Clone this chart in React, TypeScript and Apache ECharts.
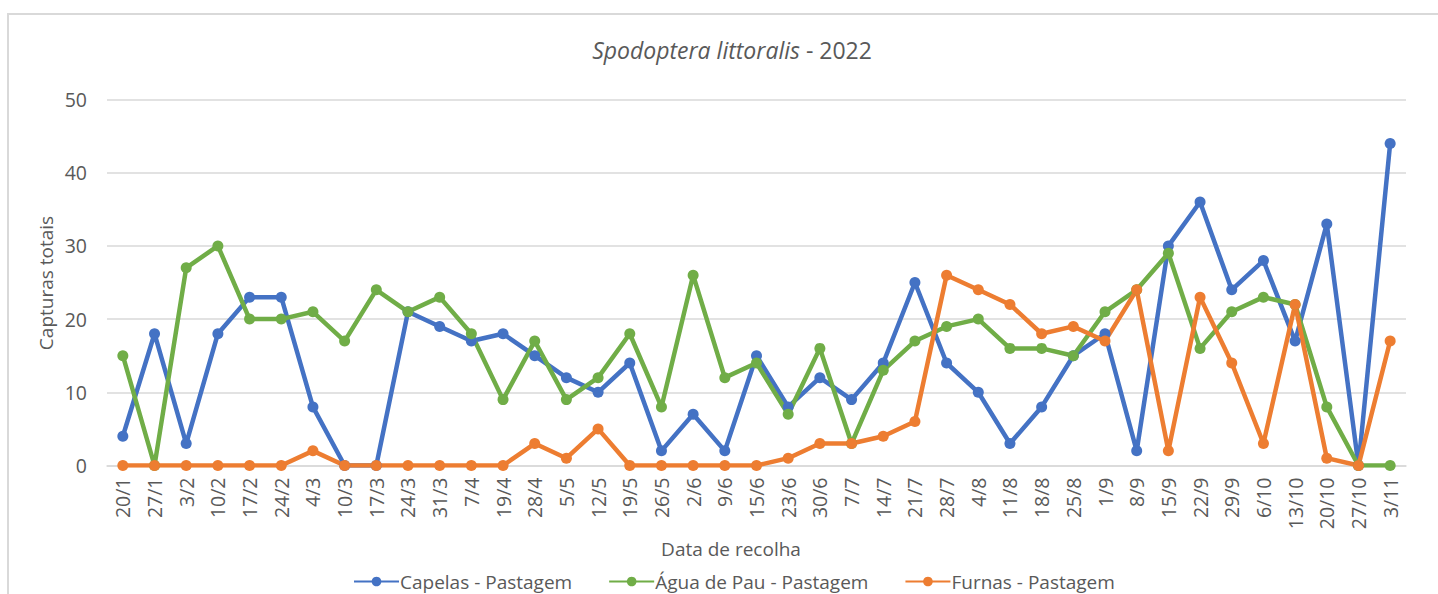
import React, { useEffect, useRef } from "react";
import * as echarts from "echarts";

const categories = ["20/1","27/1","3/2","10/2","17/2","24/2","4/3","10/3","17/3","24/3","31/3","7/4","19/4","28/4","5/5","12/5","19/5","26/5","2/6","9/6","15/6","23/6","30/6","7/7","14/7","21/7","28/7","4/8","11/8","18/8","25/8","1/9","8/9","15/9","22/9","29/9","6/10","13/10","20/10","27/10","3/11"];

const capelas = [4,18,3,18,23,23,8,0,0,21,19,17,18,15,12,10,14,2,7,2,15,8,12,9,14,25,14,10,3,8,15,18,2,30,36,24,28,17,33,0,44];
const aguaDePau = [15,0,27,30,20,20,21,17,24,21,23,18,9,17,9,12,18,8,26,12,14,7,16,3,13,17,19,20,16,16,15,21,24,29,16,21,23,22,8,0,0];
const furnas = [0,0,0,0,0,0,2,0,0,0,0,0,0,3,1,5,0,0,0,0,0,1,3,3,4,6,26,24,22,18,19,17,24,2,23,14,3,22,1,0,17];

const seriesNames = ["Capelas - Pastagem", "Água de Pau - Pastagem", "Furnas - Pastagem"];
const yTicks = { min: 0, max: 50, interval: 10 };

const FONT = "Open Sans";
const TXT = "#595959";

export default function App() {
  const ref = useRef<HTMLDivElement>(null);
  useEffect(() => {
    const chart = echarts.init(ref.current!, null, { renderer: "svg" });
    const mk = (name: string, data: number[], color: string) => ({
      name,
      type: "line",
      data,
      symbol: "circle",
      symbolSize: 11,
      lineStyle: { width: 4.5, color },
      itemStyle: { color },
      emphasis: { disabled: true },
    });
    chart.setOption({
      animation: false,
      title: {
        text: "{i|Spodoptera littoralis} - 2022",
        left: 727,
        top: 33,
        textAlign: "center",
        textStyle: {
          fontSize: 23,
          fontWeight: "normal",
          color: TXT,
          fontFamily: FONT,
          rich: { i: { fontStyle: "italic", fontSize: 23, color: TXT, fontFamily: FONT } },
        },
      },
      graphic: [
        {
          type: "rect",
          shape: { x: 8, y: 14, width: 1440, height: 620 },
          style: { fill: "none", stroke: "#d9d9d9", lineWidth: 2 },
          silent: true,
        },
        {
          type: "text",
          x: 46,
          y: 283,
          rotation: Math.PI / 2,
          style: { text: "Capturas totais", fontSize: 19, fill: TXT, fontFamily: FONT, align: "center", verticalAlign: "middle" },
        },
        {
          type: "text",
          x: 731,
          y: 549,
          style: { text: "Data de recolha", fontSize: 19, fill: TXT, fontFamily: FONT, align: "center", verticalAlign: "middle" },
        },
      ],
      legend: {
        data: seriesNames,
        left: 348,
        top: 567,
        itemWidth: 45,
        itemHeight: 12,
        itemGap: 36,
        textStyle: { fontSize: 19, color: TXT, fontFamily: FONT, padding: [0, 0, 0, -4] },
      },
      grid: { left: 107, right: 32, top: 99.5, height: 366, containLabel: false },
      xAxis: {
        type: "category",
        data: categories,
        boundaryGap: true,
        axisLine: { show: true, lineStyle: { color: "#d9d9d9", width: 1.5 } },
        axisTick: { show: false },
        axisLabel: { rotate: 90, interval: 0, fontSize: 19.5, color: TXT, fontFamily: FONT, margin: 12 },
      },
      yAxis: {
        type: "value",
        min: yTicks.min,
        max: yTicks.max,
        interval: yTicks.interval,
        axisLine: { show: false },
        axisTick: { show: false },
        splitLine: { lineStyle: { color: "#d9d9d9", width: 1.5 } },
        axisLabel: { fontSize: 19.5, color: TXT, fontFamily: FONT, margin: 20 },
      },
      series: [
        mk(seriesNames[0], capelas, "#4472C4"),
        mk(seriesNames[1], aguaDePau, "#70AD47"),
        mk(seriesNames[2], furnas, "#ED7D31"),
      ],
    });
    return () => chart.dispose();
  }, []);
  return (
    <div
      ref={ref}
      style={{ position: "absolute", left: 0, top: 0, width: 1438, height: 594, background: "#fff" }}
    />
  );
}
